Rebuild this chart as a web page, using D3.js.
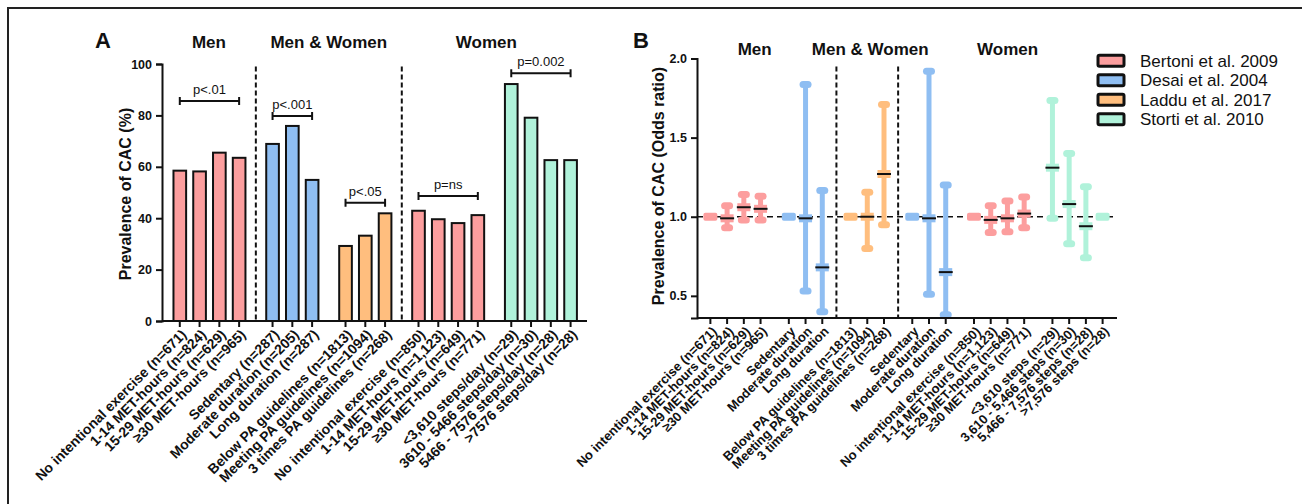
<!DOCTYPE html>
<html><head><meta charset="utf-8">
<script src="https://cdn.jsdelivr.net/npm/d3@7"></script>
<style>body{margin:0;background:#fff}svg{display:block}text{font-family:"Liberation Sans",Arial,sans-serif;fill:#111}</style>
</head><body><svg id="c" width="1302" height="504"></svg>
<script>
// ---------- data ----------
const studies = ["Bertoni et al. 2009","Desai et al. 2004","Laddu et al. 2017","Storti et al. 2010"];
const studyColors = ["#FC9E9E","#8FBEF2","#FFBE7E","#B0F2DA"];
const sections = ["Men","Men & Women","Women"];

const catsA = ["No intentional exercise (n=671)","1-14 MET-hours (n=824)","15-29 MET-hours (n=629)","≥30 MET-hours (n=965)",
  "Sedentary (n=287)","Moderate duration (n=205)","Long duration (n=287)",
  "Below PA guidelines (n=1813)","Meeting PA guidelines (n=1094)","3 times PA guidelines (n=268)",
  "No intentional exercise (n=850)","1-14 MET-hours (n=1,123)","15-29 MET-hours (n=649)","≥30 MET-hours (n=771)",
  "<3,610 steps/day (n=29)","3610 - 5466 steps/day (n=30)","5466 - 7576 steps/day (n=28)",">7576 steps/day (n=28)"];
const valuesA = [58.5,58.2,65.5,63.5, 68.9,75.9,54.9, 29.2,33.2,41.9, 42.9,39.6,38.1,41.2, 92.2,79.1,62.6,62.6];
const studyA = [0,0,0,0, 1,1,1, 2,2,2, 0,0,0,0, 3,3,3,3];
const groupA = [0,0,0,0, 1,1,1, 2,2,2, 3,3,3,3, 4,4,4,4];
const sectionBreaksA = [1,3];   // section starts at these groups
const ticksA = [0,20,40,60,80,100];
const bracketLabelsA = ["p<.01","p<.001","p<.05","p=ns","p=0.002"];
const bracketFromA = [0,4,7,10,14];
const bracketToA = [3,6,9,13,17];
const bracketValueA = [85.6,79.8,46,48.6,96.4];

const catsB = ["No intentional exercise (n=671)","1-14 MET-hours (n=824)","15-29 MET-hours (n=629)","≥30 MET-hours (n=965)",
  "Sedentary","Moderate duration","Long duration",
  "Below PA guidelines (n=1813)","Meeting PA guidelines (n=1094)","3 times PA guidelines (n=268)",
  "Sedentary","Moderate duration","Long duration",
  "No intentional exercise (n=850)","1-14 MET-hours (n=1,123)","15-29 MET-hours (n=649)","≥30 MET-hours (n=771)",
  "<3,610 steps (n=29)","3,610 - 5,466 steps (n=30)","5,466 - 7,576 steps (n=28)",">7,576 steps (n=28)"];
const estB  = [1.00,0.99,1.06,1.05, 1.00,0.99,0.68, 1.00,1.00,1.27, 1.00,0.99,0.65, 1.00,0.98,0.99,1.02, 1.31,1.08,0.94,1.00];
const lowB  = [null,0.93,0.98,0.98, null,0.53,0.40, null,0.80,0.95, null,0.51,0.38, null,0.90,0.905,0.93, 0.99,0.83,0.74,null];
const highB = [null,1.07,1.14,1.13, null,1.835,1.165, null,1.155,1.71, null,1.92,1.20, null,1.07,1.10,1.125, 1.735,1.40,1.19,null];
const studyB = [0,0,0,0, 1,1,1, 2,2,2, 1,1,1, 0,0,0,0, 3,3,3,3];
const groupB = [0,0,0,0, 1,1,1, 2,2,2, 3,3,3, 4,4,4,4, 5,5,5,5];
const sectionBreaksB = [2,3];
const ticksB = [0.5,1.0,1.5,2.0];

// ---------- layout ----------
const GAP = 0.69;
const svg = d3.select("#c");
const font = "Liberation Sans, Arial, sans-serif";

// frame
svg.append("path").attr("d","M8,504V8H1302").attr("fill","none").attr("stroke","#222").attr("stroke-width",2);

function pos(i, groups){ return i + GAP*groups[i]; }

function xLabels(g, cats, xs, y0, size){
  g.selectAll("text.xl").data(cats).join("text").attr("class","xl")
    .attr("transform",(d,i)=>`translate(${xs(pos(i,g.datum()))+4},${y0+11}) rotate(-45)`)
    .attr("text-anchor","end").attr("dy","0.35em")
    .attr("font-size",size).attr("font-weight","bold").text(d=>d);
}

function xAxisLine(g, xs, y0, n, groups){
  const r = xs.range();
  g.append("line").attr("x1",r[0]).attr("x2",r[1]).attr("y1",y0).attr("y2",y0).attr("stroke","#111").attr("stroke-width",2);
  g.selectAll("line.tk").data(d3.range(n)).join("line").attr("class","tk")
    .attr("x1",i=>xs(pos(i,groups))).attr("x2",i=>xs(pos(i,groups)))
    .attr("y1",y0).attr("y2",y0+6).attr("stroke","#111").attr("stroke-width",2);
}

function yAxis(g, ys, x0, ticks, fmt){
  const ax = d3.axisLeft(ys).tickValues(ticks).tickFormat(fmt).tickSizeOuter(0).tickSize(6);
  const a = g.append("g").attr("transform",`translate(${x0},0)`).call(ax);
  a.select(".domain").attr("stroke","#111").attr("stroke-width",2);
  a.selectAll(".tick line").attr("stroke","#111").attr("stroke-width",2);
  a.selectAll(".tick text").attr("font-size",12.5).attr("font-weight","bold").attr("font-family",font).attr("fill","#111").attr("dx","-1");
}

function sectionLines(g, xs, groups, breaks, yTop, yBot){
  breaks.forEach(b=>{
    const last = groups.lastIndexOf(b-1), first = groups.indexOf(b);
    const xm = (xs(pos(last,groups))+xs(pos(first,groups)))/2;
    g.append("line").attr("x1",xm).attr("x2",xm).attr("y1",yTop).attr("y2",yBot)
      .attr("stroke","#111").attr("stroke-width",2).attr("stroke-dasharray","5,3");
  });
}
function sectionCenters(xs, groups, breaks){
  const r = xs.range();
  const edges=[r[0]];
  breaks.forEach(b=>{
    const last = groups.lastIndexOf(b-1), first = groups.indexOf(b);
    edges.push((xs(pos(last,groups))+xs(pos(first,groups)))/2);
  });
  edges.push(r[1]);
  return sections.map((s,i)=>(edges[i]+edges[i+1])/2);
}

// ---------- Panel A ----------
{
  const g = svg.append("g");
  const nA = catsA.length;
  const xs = d3.scaleLinear().domain([-0.9, pos(nA-1,groupA)+0.83]).range([162,587]);
  const ys = d3.scaleLinear().domain([0,100]).range([321,64]);
  g.datum(groupA);
  const bw = xs(0.64)-xs(0);
  g.selectAll("rect.bar").data(valuesA).join("rect").attr("class","bar")
    .attr("x",(d,i)=>xs(pos(i,groupA))-bw/2).attr("width",bw)
    .attr("y",d=>ys(d)).attr("height",d=>ys(0)-ys(d))
    .attr("fill",(d,i)=>studyColors[studyA[i]]).attr("stroke","#111").attr("stroke-width",2);
  yAxis(g, ys, 162, ticksA, d3.format("d"));
  xAxisLine(g, xs, 321, nA, groupA);
  sectionLines(g, xs, groupA, sectionBreaksA, ys(99), 321);
  xLabels(g, catsA, xs, 321, 14);
  // brackets
  bracketLabelsA.forEach((lab,k)=>{
    const x1 = xs(pos(bracketFromA[k],groupA)), x2 = xs(pos(bracketToA[k],groupA)), y = ys(bracketValueA[k]);
    g.append("path").attr("d",`M${x1},${y-4}V${y+4}M${x1},${y}H${x2}M${x2},${y-4}V${y+4}`)
      .attr("fill","none").attr("stroke","#111").attr("stroke-width",2);
    g.append("text").attr("x",(x1+x2)/2).attr("y",y-7).attr("text-anchor","middle").attr("font-size",13).text(lab);
  });
  const cs = sectionCenters(xs, groupA, sectionBreaksA);
  const shiftA=[0,0,-8];
  sections.forEach((s,i)=>g.append("text").attr("x",cs[i]+shiftA[i]).attr("y",48).attr("text-anchor","middle")
     .attr("font-size",17).attr("font-weight","bold").text(s));
  g.append("text").attr("x",95).attr("y",48).attr("font-size",22).attr("font-weight","bold").text("A");
  g.append("text").attr("transform","translate(125,194) rotate(-90)").attr("text-anchor","middle").attr("dy","0.35em")
    .attr("font-size",16).attr("font-weight","bold").text("Prevalence of CAC (%)");
}

// ---------- Panel B ----------
{
  const g = svg.append("g");
  const nB = catsB.length;
  const xs = d3.scaleLinear().domain([-0.8, pos(nB-1,groupB)+0.86]).range([697,1117]);
  const ys = d3.scaleLinear().domain([0.36,2.0]).range([318,58.5]);
  g.datum(groupB);
  // reference line
  g.append("line").attr("x1",697).attr("x2",1117).attr("y1",ys(1)).attr("y2",ys(1))
    .attr("stroke","#111").attr("stroke-width",1.5).attr("stroke-dasharray","6,4");
  sectionLines(g, xs, groupB, sectionBreaksB, ys(1.95), 318);
  estB.forEach((e,i)=>{
    const x = xs(pos(i,groupB)), c = studyColors[studyB[i]];
    if(lowB[i]===null){
      g.append("rect").attr("x",x-7).attr("width",14).attr("y",ys(e)-4).attr("height",8).attr("rx",2).attr("fill",c);
      return;
    }
    g.append("line").attr("x1",x).attr("x2",x).attr("y1",ys(lowB[i])).attr("y2",ys(highB[i]))
      .attr("stroke",c).attr("stroke-width",5);
    [lowB[i],highB[i]].forEach(v=>g.append("line").attr("x1",x-2.5).attr("x2",x+2.5).attr("y1",ys(v)).attr("y2",ys(v))
      .attr("stroke",c).attr("stroke-width",7).attr("stroke-linecap","round"));
    g.append("rect").attr("x",x-6.5).attr("width",13).attr("y",ys(e)-4).attr("height",8).attr("fill",c);
    g.append("line").attr("x1",x-7).attr("x2",x+7).attr("y1",ys(e)).attr("y2",ys(e)).attr("stroke","#111").attr("stroke-width",2);
  });
  yAxis(g, ys, 697, ticksB, d3.format(".1f"));
  xAxisLine(g, xs, 318, nB, groupB);
  xLabels(g, catsB, xs, 318, 13);
  const cs = sectionCenters(xs, groupB, sectionBreaksB);
  const shiftB=[-12,3,0];
  sections.forEach((s,i)=>g.append("text").attr("x",cs[i]+shiftB[i]).attr("y",55).attr("text-anchor","middle")
     .attr("font-size",17).attr("font-weight","bold").text(s));
  g.append("text").attr("x",633).attr("y",48).attr("font-size",22).attr("font-weight","bold").text("B");
  g.append("text").attr("transform","translate(658,186) rotate(-90)").attr("text-anchor","middle").attr("dy","0.35em")
    .attr("font-size",16).attr("font-weight","bold").text("Prevalence of CAC (Odds ratio)");
  // legend
  const lg = svg.append("g");
  studies.forEach((s,i)=>{
    const yc = 60.7 + i*19.5;
    lg.append("rect").attr("x",1098).attr("y",yc-5.5).attr("width",26).attr("height",11).attr("rx",1.5)
      .attr("fill",studyColors[i]).attr("stroke","#111").attr("stroke-width",3);
    lg.append("text").attr("x",1140).attr("y",yc).attr("dy","0.36em").attr("font-size",17).text(s);
  });
}
</script></body></html>
